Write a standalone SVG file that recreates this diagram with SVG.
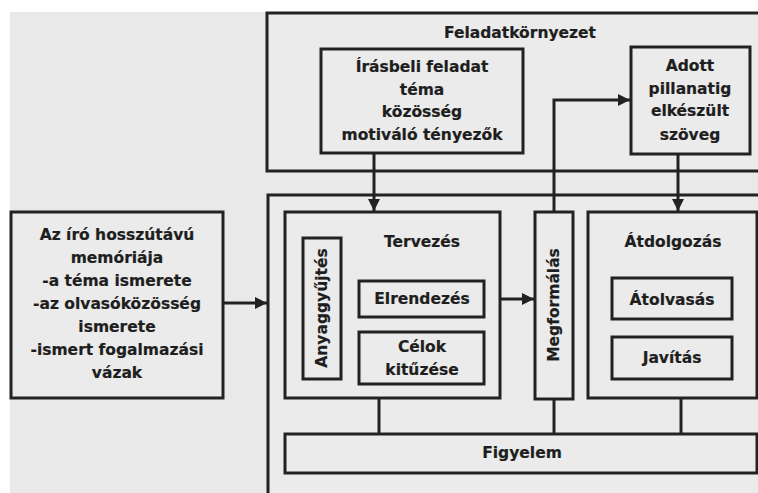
<svg xmlns="http://www.w3.org/2000/svg" width="758" height="493" viewBox="0 0 758 493">
<defs>
<style>
.b{fill:#ebebeb;stroke:#222;stroke-width:3}
.t{font-family:"DejaVu Sans","Verdana",sans-serif;font-weight:bold;font-size:15.5px;fill:#1e1e1e;stroke:#1e1e1e;stroke-width:0.2;text-anchor:middle;dominant-baseline:central}
.c{fill:none;stroke:#222;stroke-width:3}
</style>
<marker id="ah" viewBox="0 0 10 10" refX="10" refY="5" markerWidth="4" markerHeight="4" orient="auto" markerUnits="strokeWidth">
<path d="M0,0 L10,5 L0,10 z" fill="#222"/>
</marker>
</defs>
<rect x="0" y="0" width="758" height="493" fill="#ffffff"/>
<rect x="10" y="12" width="748" height="481" fill="#e9e9e9"/>
<g id="feladatkornyezet">
<rect class="b" x="267" y="13" width="500" height="158"/>
<text class="t" x="520" y="33">Feladatkörnyezet</text>
</g>
<g id="irasbeli">
<rect class="b" x="321" y="49" width="202" height="104"/>
<text class="t" x="422" y="67">Írásbeli feladat</text>
<text class="t" x="422" y="90">téma</text>
<text class="t" x="422" y="112">közösség</text>
<text class="t" x="422" y="135">motiváló tényezők</text>
</g>
<g id="adott">
<rect class="b" x="631" y="47" width="119" height="107"/>
<text class="t" x="690" y="66">Adott</text>
<text class="t" x="690" y="89">pillanatig</text>
<text class="t" x="690" y="111">elkészült</text>
<text class="t" x="690" y="135">szöveg</text>
</g>
<g id="folyamat">
<rect class="b" x="268" y="195" width="500" height="310"/>
</g>
<g id="memoria">
<rect class="b" x="11" y="212" width="212" height="186"/>
<text class="t" x="117" y="235">Az író hosszútávú</text>
<text class="t" x="117" y="258">memóriája</text>
<text class="t" x="117" y="281">-a téma ismerete</text>
<text class="t" x="117" y="304">-az olvasóközösség</text>
<text class="t" x="117" y="327">ismerete</text>
<text class="t" x="117" y="350">-ismert fogalmazási</text>
<text class="t" x="117" y="373">vázak</text>
</g>
<g id="tervezes">
<rect class="b" x="285" y="212" width="215" height="186"/>
<text class="t" x="422" y="242">Tervezés</text>
</g>
<g id="anyaggyujtes">
<rect class="b" x="303" y="238" width="38" height="141"/>
<text class="t" transform="translate(322,308) rotate(-90)" x="0" y="0">Anyaggyűjtés</text>
</g>
<g id="elrendezes">
<rect class="b" x="359" y="281" width="125" height="36"/>
<text class="t" x="422" y="299">Elrendezés</text>
</g>
<g id="celok">
<rect class="b" x="359" y="332" width="125" height="52"/>
<text class="t" x="422" y="347">Célok</text>
<text class="t" x="422" y="370">kitűzése</text>
</g>
<g id="megformalas">
<rect class="b" x="535" y="212" width="38" height="187"/>
<text class="t" transform="translate(554,305) rotate(-90)" x="0" y="0">Megformálás</text>
</g>
<g id="atdolgozas">
<rect class="b" x="588" y="212" width="169" height="186"/>
<text class="t" x="673" y="242">Átdolgozás</text>
</g>
<g id="atolvasas">
<rect class="b" x="612" y="278" width="120" height="41"/>
<text class="t" x="672" y="300">Átolvasás</text>
</g>
<g id="javitas">
<rect class="b" x="612" y="337" width="120" height="42"/>
<text class="t" x="672" y="358">Javítás</text>
</g>
<g id="figyelem">
<rect class="b" x="285" y="434" width="472" height="39"/>
<text class="t" x="522" y="453">Figyelem</text>
</g>
<g id="connectors">
<path class="c" d="M374,153 V211" marker-end="url(#ah)"/>
<path class="c" d="M678,154 V211" marker-end="url(#ah)"/>
<path class="c" d="M554,212 V100 H630" marker-end="url(#ah)"/>
<path class="c" d="M223,303 H267" marker-end="url(#ah)"/>
<path class="c" d="M500,299 H534" marker-end="url(#ah)"/>
<path class="c" d="M379,398 V434"/>
<path class="c" d="M554,399 V434"/>
<path class="c" d="M681,398 V434"/>
</g>
</svg>
